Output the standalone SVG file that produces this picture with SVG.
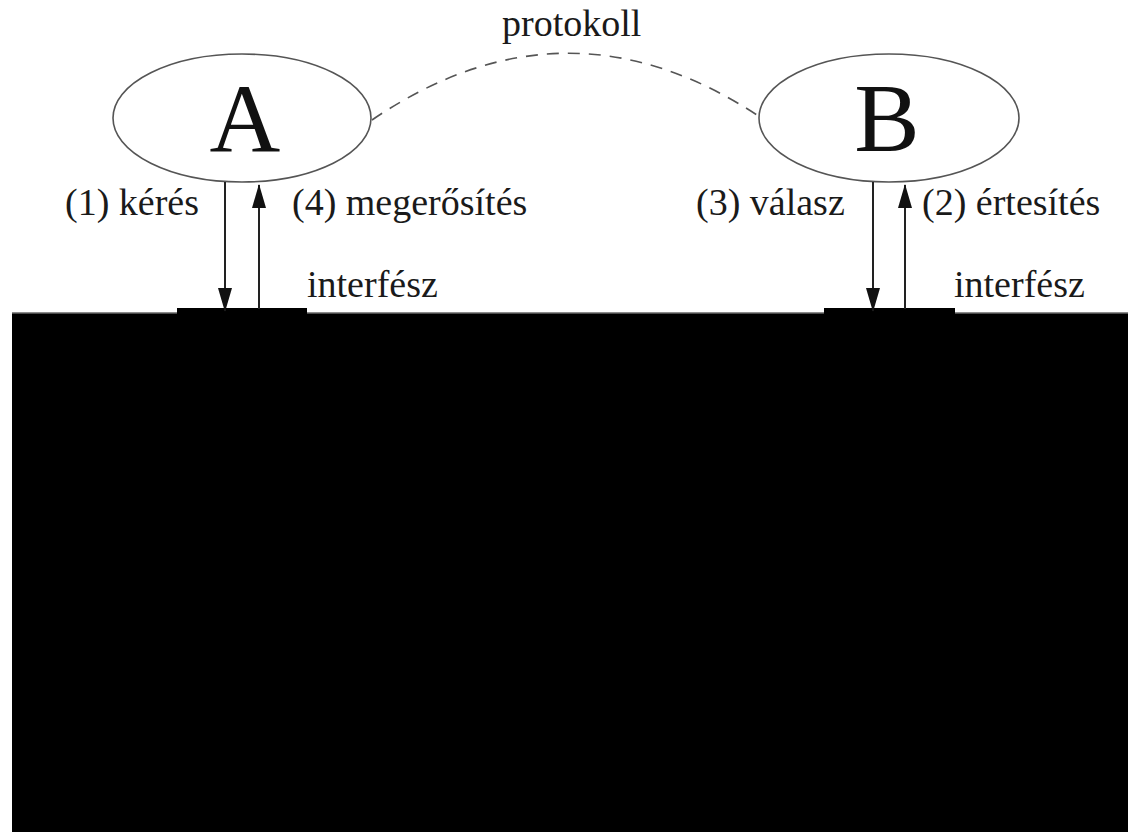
<svg xmlns="http://www.w3.org/2000/svg" width="1128" height="832" viewBox="0 0 1128 832">
<style>
.lbl{font-family:"Liberation Serif","Times New Roman",serif;font-size:38px;fill:#1a1a1a}
.big{font-family:"Liberation Serif","Times New Roman",serif;font-size:98px;fill:#111;text-anchor:middle}
.node{fill:#fff;stroke:#555;stroke-width:1.6}
.arr{stroke:#222;stroke-width:2;fill:none}
</style>
<defs>
<marker id="head" markerUnits="userSpaceOnUse" markerWidth="24" markerHeight="16" viewBox="0 0 24 16" refX="23" refY="8" orient="auto">
<path d="M0,1 L24,8 L0,15 Z" fill="#111"/>
</marker>
</defs>
<rect x="0" y="0" width="1128" height="832" fill="#fff"/>
<g id="ground">
<rect x="12" y="313" width="1116" height="519" fill="#000"/>
<line x1="12" y1="313" x2="1128" y2="313" stroke="#666" stroke-width="1.5"/>
<rect x="177" y="308" width="130" height="6" fill="#000"/>
<rect x="824" y="308" width="131" height="6" fill="#000"/>
</g>
<g id="nodeA">
<ellipse class="node" cx="242" cy="118" rx="129" ry="64"/>
<text class="big" x="245" y="151">A</text>
</g>
<g id="nodeB">
<ellipse class="node" cx="889" cy="118" rx="130" ry="64"/>
<text class="big" x="887" y="151">B</text>
</g>
<g id="connectors">
<path d="M372,120 Q566,-12 760,117" fill="none" stroke="#555" stroke-width="1.6" stroke-dasharray="12,9"/>
<line class="arr" x1="225" y1="182" x2="225" y2="311" marker-end="url(#head)"/>
<line class="arr" x1="259" y1="309" x2="259" y2="185" marker-end="url(#head)"/>
<line class="arr" x1="873" y1="182" x2="873" y2="311" marker-end="url(#head)"/>
<line class="arr" x1="905" y1="309" x2="905" y2="185" marker-end="url(#head)"/>
</g>
<g id="labels">
<text class="lbl" x="502" y="36">protokoll</text>
<text class="lbl" x="65" y="215">(1) kérés</text>
<text class="lbl" x="292" y="215">(4) megerősítés</text>
<text class="lbl" x="307" y="297">interfész</text>
<text class="lbl" x="696" y="215">(3) válasz</text>
<text class="lbl" x="922" y="215">(2) értesítés</text>
<text class="lbl" x="954" y="297">interfész</text>
</g>
</svg>
